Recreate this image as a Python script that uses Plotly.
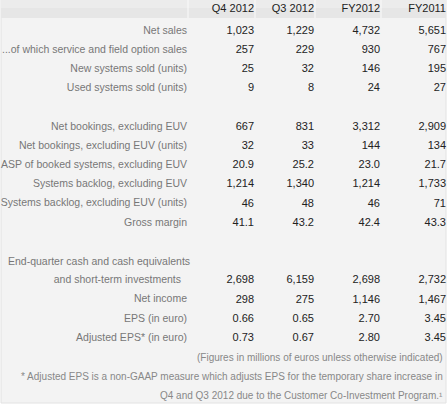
import plotly.graph_objects as go

headers = ["Q4 2012", "Q3 2012", "FY2012", "FY2011"]
labels = ["Net sales", "...of which service and field option sales", "New systems sold (units)",
          "Used systems sold (units)", "",
          "Net bookings, excluding EUV", "Net bookings, excluding EUV (units)",
          "ASP of booked systems, excluding EUV", "Systems backlog, excluding EUV",
          "Systems backlog, excluding EUV (units)", "Gross margin", "",
          "", "and short-term investments", "Net income", "EPS (in euro)", "Adjusted EPS* (in euro)"]
q4_2012 = ["1,023", "257", "25", "9", "", "667", "32", "20.9", "1,214", "46", "41.1", "", "", "2,698", "298", "0.66", "0.73"]
q3_2012 = ["1,229", "229", "32", "8", "", "831", "33", "25.2", "1,340", "48", "43.2", "", "", "6,159", "275", "0.65", "0.67"]
fy2012 = ["4,732", "930", "146", "24", "", "3,312", "144", "23.0", "1,214", "46", "42.4", "", "", "2,698", "1,146", "2.70", "2.80"]
fy2011 = ["5,651", "767", "195", "27", "", "2,909", "134", "21.7", "1,733", "71", "43.3", "", "", "2,732", "1,467", "3.45", "3.45"]
notes = ["(Figures in millions of euros unless otherwise indicated)",
         "* Adjusted EPS is a non-GAAP measure which adjusts EPS for the temporary share increase in",
         "Q4 and Q3 2012 due to the Customer Co-Investment Program.\u00b9"]
cash_label = "End-quarter cash and cash equivalents"

W, H = 447, 404
label_x = 187
col_x = [254, 314, 380, 446]
row0, step = 31, 19.2
rows_y = [row0 + i * step for i in range(len(labels))]
font = "Liberation Sans, Arial, sans-serif"

fig = go.Figure()
fig.add_shape(type="rect", x0=1, x1=W - 1, y0=0, y1=H - 1, fillcolor="#f3f3f3",
              line=dict(color="#e2e2e2", width=1), layer="below")
fig.add_shape(type="rect", x0=1, x1=W - 1, y0=0, y1=18, fillcolor="#e6e6e6", line_width=0, layer="below")
fig.add_shape(type="rect", x0=1, x1=W - 1, y0=0, y1=8, fillcolor="#ececec", line_width=0, layer="below")
for sx in [label_x + 1, col_x[0] + 1, col_x[1] + 1, col_x[2] + 1]:
    fig.add_shape(type="line", x0=sx, x1=sx, y0=0, y1=18, line=dict(color="#fafafa", width=1))

fig.add_trace(go.Scatter(x=col_x, y=[9] * 4, mode="text", text=headers, textposition="middle left",
                         textfont=dict(family=font, size=11, color="#222")))
lab_x = [label_x] * len(labels)
lab_x[13] = label_x - 6
fig.add_trace(go.Scatter(x=lab_x, y=rows_y, mode="text", text=labels, textposition="middle left",
                         textfont=dict(family=font, size=10.5, color="#777")))
for cx, vals in zip(col_x, [q4_2012, q3_2012, fy2012, fy2011]):
    fig.add_trace(go.Scatter(x=[cx] * len(vals), y=rows_y, mode="text", text=vals, textposition="middle left",
                             textfont=dict(family=font, size=11, color="#222")))
fig.add_annotation(x=6, y=rows_y[12], text=cash_label, showarrow=False, xanchor="left",
                   font=dict(family=font, size=10.5, color="#777"))
for i, n in enumerate(notes):
    fig.add_annotation(x=W - 2, y=rows_y[-1] + step * (i + 1), text=n, showarrow=False, xanchor="right",
                       font=dict(family=font, size=10, color="#888"))

fig.update_layout(width=W, height=H, margin=dict(l=0, r=0, t=0, b=0), showlegend=False,
                  paper_bgcolor="white", plot_bgcolor="white",
                  xaxis=dict(range=[0, W], visible=False, fixedrange=True),
                  yaxis=dict(range=[H, 0], visible=False, fixedrange=True))
fig.write_html("out.html", config={"displayModeBar": False},
               post_script="document.body.style.margin='0';document.body.style.overflow='hidden';")
